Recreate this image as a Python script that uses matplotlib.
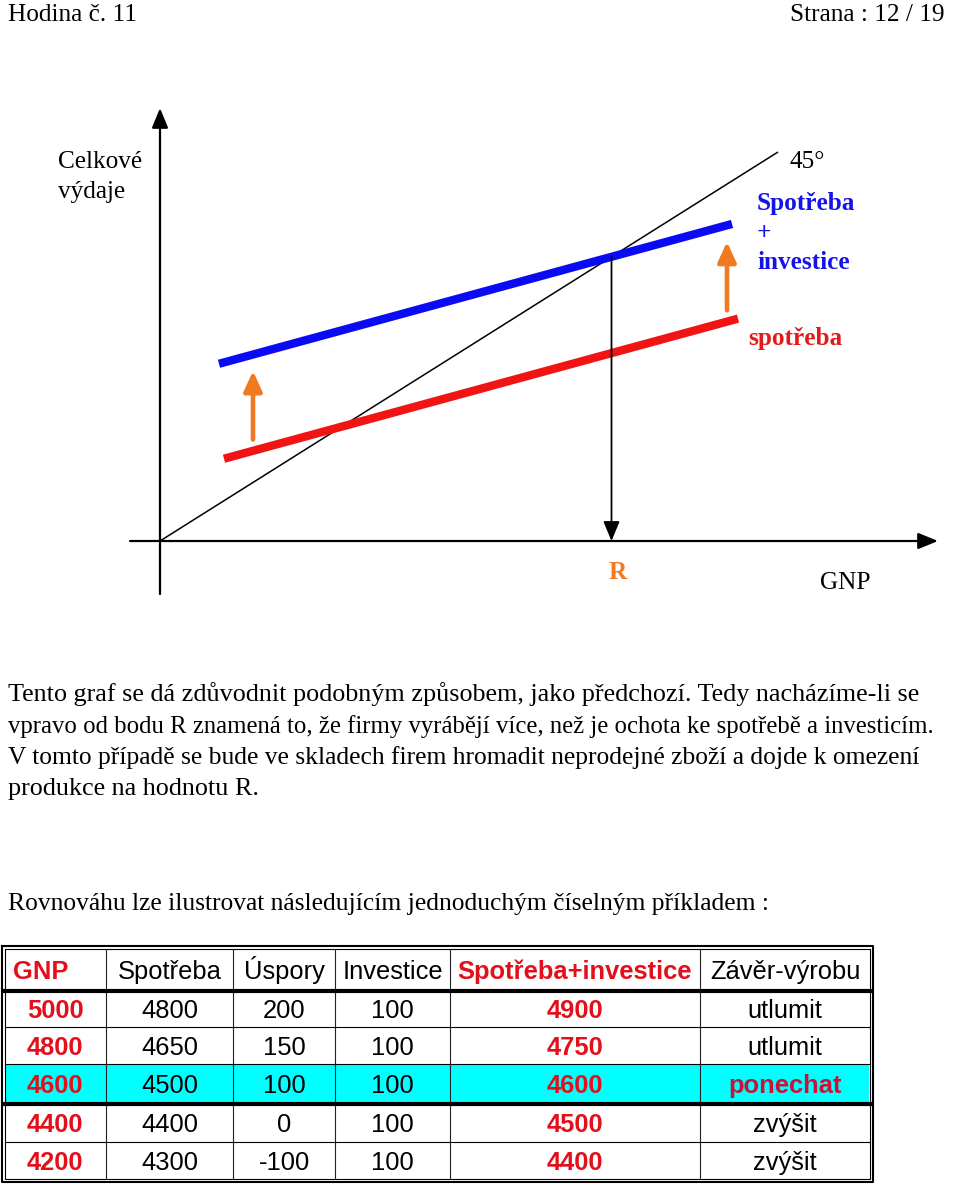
import matplotlib
matplotlib.use("Agg")
import matplotlib.pyplot as plt

# ---------------- data ----------------
# schematic diagram (units where the 45° line is y = x)
consumption_a = 103.0      # autonomous consumption
mpc = 0.433                # slope of consumption line
investment = 153.0         # shift up to C + I
gnp_line_range = [0.0, 618.0]
cons_range = [64.0, 578.0]
ci_range = [59.0, 572.0]
arrow_x = [93.0, 567.0]

# table
headers = ["GNP", "Spotřeba", "Úspory", "Investice", "Spotřeba+investice", "Závěr-výrobu"]
gnp = [5000, 4800, 4600, 4400, 4200]
spotreba = [4800, 4650, 4500, 4400, 4300]
uspory = [200, 150, 100, 0, -100]
investice = [100, 100, 100, 100, 100]
spotreba_investice = [4900, 4750, 4600, 4500, 4400]
zaver = ["utlumit", "utlumit", "ponechat", "zvýšit", "zvýšit"]

paragraph = [
    "Tento graf se dá zdůvodnit podobným způsobem, jako předchozí. Tedy nacházíme-li se",
    "vpravo od bodu R znamená to, že firmy vyrábějí více, než je ochota ke spotřebě a investicím.",
    "V tomto případě se bude ve skladech firem hromadit neprodejné zboží a dojde k omezení",
    "produkce na hodnotu R.",
]
example_line = "Rovnováhu lze ilustrovat následujícím jednoduchým číselným příkladem :"

# ---------------- figure ----------------
W, H = 960, 1185
DPI = 100
fig = plt.figure(figsize=(W / DPI, H / DPI), dpi=DPI)
fig.patch.set_facecolor("white")
renderer = fig.canvas.get_renderer()

SERIF = "Liberation Serif"
SANS = "Liberation Sans"

def fit(txt, family, weight, target_px, base=20.0):
    t = fig.text(0, 0, txt, fontsize=base, family=family, weight=weight)
    w = t.get_window_extent(renderer).width
    t.remove()
    return base * target_px / w

fs_head = fit("Hodina č. 11", SERIF, "normal", 129)
fs_p1 = fit(paragraph[0], SERIF, "normal", 909)
fs_p2 = fit(paragraph[1], SERIF, "normal", 924)
fs_p3 = fit(paragraph[2], SERIF, "normal", 909)
fs_pars = [fs_p1, fs_p2, fs_p3, fs_p1]
fs_ex = fit(example_line, SERIF, "normal", 762)
fs_lab = fit("Celkové", SERIF, "normal", 84)
fs_bold = fit("Spotřeba", SERIF, "bold", 98)
fs_tab = fit("Spotřeba", SANS, "normal", 103)
fs_tabb = fit("Spotřeba+investice", SANS, "bold", 234)

pg = fig.add_axes([0, 0, 1, 1])
pg.set_xlim(0, W)
pg.set_ylim(H, 0)
pg.axis("off")

def txt(x, y, s, size, family=SERIF, weight="normal", color="black", ha="left"):
    pg.text(x, y, s, fontsize=size, family=family, weight=weight, color=color,
            ha=ha, va="baseline")

# header
txt(8, 21, "Hodina č. 11", fs_head)
txt(945, 21, "Strana : 12 / 19", fs_head, ha="right")

# diagram labels
txt(58, 168, "Celkové", fs_lab)
txt(58, 198, "výdaje", fs_lab)
txt(790, 168, "45°", fs_lab)
BLUE_T = "#1414e6"
RED_T = "#e41a1a"
ORANGE = "#f07a22"
txt(757, 210, "Spotřeba", fs_bold, weight="bold", color=BLUE_T)
txt(757, 240, "+", fs_bold, weight="bold", color=BLUE_T)
txt(757, 269, "investice", fs_bold, weight="bold", color=BLUE_T)
txt(748, 345, "spotřeba", fs_bold, weight="bold", color=RED_T)
txt(618, 579, "R", fs_bold, weight="bold", color=ORANGE, ha="center")
txt(845, 589, "GNP", fs_lab, ha="center")

# paragraph
for i, line in enumerate(paragraph):
    txt(8, 701 + i * 31.5, line, fs_pars[i])
txt(8, 910, example_line, fs_ex)

# ---------------- diagram axes ----------------
k = 618.0 / 389.0
px0, px1, py0, py1 = 100, 960, 90, 620
dg = fig.add_axes([px0 / W, (H - py1) / H, (px1 - px0) / W, (py1 - py0) / H])
dg.set_xlim(px0 - 160, px1 - 160)
dg.set_ylim((541 - py1) * k, (541 - py0) * k)
dg.axis("off")
dg.patch.set_alpha(0)

# axes with arrows
ax_style = dict(arrowstyle="-|>,head_length=1.1,head_width=0.45", lw=1.6, color="black",
                mutation_scale=11, shrinkA=0, shrinkB=0)
dg.annotate("", xy=(0, (541 - 108) * k), xytext=(0, (541 - 594) * k), arrowprops=ax_style)
dg.annotate("", xy=(778, 0), xytext=(-30, 0), arrowprops=ax_style)

# 45 degree line
dg.plot(gnp_line_range, gnp_line_range, color="black", lw=1.1, solid_capstyle="butt")

# consumption and C + I lines
cx = cons_range
dg.plot(cx, [consumption_a + mpc * x for x in cx], color="#f01414", lw=6, solid_capstyle="butt")
ix = ci_range
dg.plot(ix, [consumption_a + investment + mpc * x for x in ix], color="#0a0af5", lw=6,
        solid_capstyle="butt")

# equilibrium R
R = (consumption_a + investment) / (1 - mpc)
r_style = dict(arrowstyle="-|>,head_length=1.2,head_width=0.5", lw=1.3, color="black",
               mutation_scale=10, shrinkA=0, shrinkB=0)
dg.annotate("", xy=(R, 0), xytext=(R, R), arrowprops=r_style)

# orange shift arrows
o_style = dict(arrowstyle="-|>,head_length=1.1,head_width=0.5", lw=3.3, color=ORANGE,
               mutation_scale=11, shrinkA=0, shrinkB=0)
for xa in arrow_x:
    c = consumption_a + mpc * xa
    dg.annotate("", xy=(xa, c + investment - 26), xytext=(xa, c + 18), arrowprops=o_style)

# ---------------- table ----------------
col_edges = [4, 106, 233, 335, 450, 700, 870]
row_edges = [949, 991, 1027, 1064, 1104, 1142, 1179]
hi_row = 2  # equilibrium row (ponechat)

pg.fill_between([5, 869], row_edges[hi_row + 1], row_edges[hi_row + 2], color="#00ffff", lw=0)

# outer double border
pg.plot([2, 873, 873, 2, 2], [946, 946, 1182, 1182, 946], color="black", lw=1.5)
pg.plot([5, 870, 870, 5, 5], [949, 949, 1179, 1179, 949], color="black", lw=0.8)
for xe in col_edges[1:-1]:
    pg.plot([xe, xe], [949, 1179], color="#222222", lw=0.8)
for ye in row_edges[1:-1]:
    thick = ye in (991, 1104)
    pg.plot([5, 870], [ye, ye], color="black", lw=3 if thick else 0.8)

em_t = fs_tab * DPI / 72
em_b = fs_tabb * DPI / 72
TAB_RED = "#e3101c"
PON_RED = "#cc1036"

def cell(ci, ri, s, bold=False, color="black", ha="center"):
    y = (row_edges[ri] + row_edges[ri + 1]) / 2
    em = em_b if bold else em_t
    if ha == "center":
        x = (col_edges[ci] + col_edges[ci + 1]) / 2
    else:
        x = col_edges[ci] + 9
    pg.text(x, y + 0.36 * em, s, fontsize=fs_tabb if bold else fs_tab, family=SANS,
            weight="bold" if bold else "normal", color=color, ha=ha, va="baseline")

for ci, hname in enumerate(headers):
    red = ci in (0, 4)
    cell(ci, 0, hname, bold=red, color=TAB_RED if red else "black",
         ha="left" if ci == 0 else "center")

for ri in range(len(gnp)):
    r = ri + 1
    cell(0, r, str(gnp[ri]), bold=True, color=TAB_RED)
    cell(1, r, str(spotreba[ri]))
    cell(2, r, str(uspory[ri]))
    cell(3, r, str(investice[ri]))
    cell(4, r, str(spotreba_investice[ri]), bold=True, color=TAB_RED)
    if ri == hi_row:
        cell(5, r, zaver[ri], bold=True, color=PON_RED)
    else:
        cell(5, r, zaver[ri])

fig.savefig("out.png", dpi=DPI, facecolor="white")
